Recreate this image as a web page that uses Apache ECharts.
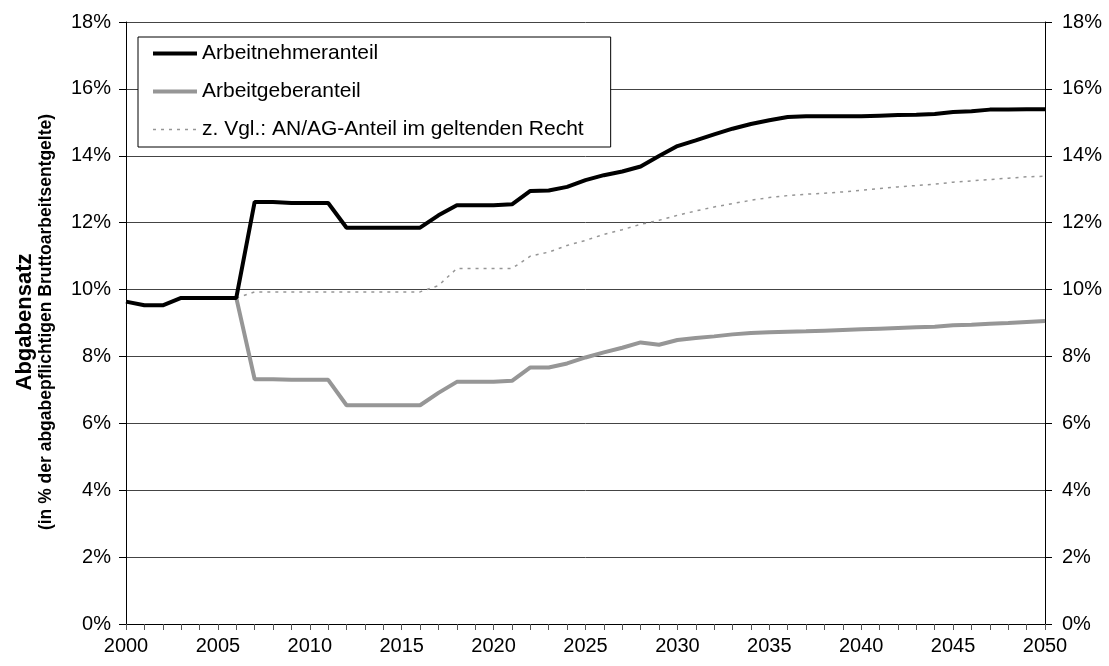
<!DOCTYPE html>
<html>
<head>
<meta charset="utf-8">
<script src="https://cdn.jsdelivr.net/npm/echarts@6/dist/echarts.min.js"></script>
<style>
  html, body { margin: 0; padding: 0; background: #fff; }
  #chart-root { width: 1109px; height: 666px; }
</style>
</head>
<body>
<div id="chart-root"></div>
<script>
// Jahre (Kategorien)
const years = [
  "2000","2001","2002","2003","2004","2005","2006","2007","2008","2009",
  "2010","2011","2012","2013","2014","2015","2016","2017","2018","2019",
  "2020","2021","2022","2023","2024","2025","2026","2027","2028","2029",
  "2030","2031","2032","2033","2034","2035","2036","2037","2038","2039",
  "2040","2041","2042","2043","2044","2045","2046","2047","2048","2049","2050"
];

// Arbeitnehmeranteil (in %)
const anteilAN = [
  9.64, 9.53, 9.53, 9.75, 9.75, 9.75, 9.75, 12.62, 12.62, 12.59,
  12.59, 12.59, 11.85, 11.85, 11.85, 11.85, 11.85, 12.22, 12.52, 12.52,
  12.52, 12.55, 12.95, 12.96, 13.07, 13.27, 13.42, 13.53, 13.68, 13.99,
  14.29, 14.46, 14.64, 14.81, 14.95, 15.06, 15.16, 15.18, 15.18, 15.18,
  15.18, 15.20, 15.22, 15.23, 15.25, 15.31, 15.33, 15.38, 15.38, 15.39, 15.39
];

// Arbeitgeberanteil (in %)
const anteilAG = [
  null, null, null, null, null, null, 9.75, 7.32, 7.32, 7.30,
  7.30, 7.30, 6.54, 6.54, 6.54, 6.54, 6.54, 6.91, 7.24, 7.24,
  7.24, 7.27, 7.67, 7.67, 7.79, 7.97, 8.12, 8.26, 8.42, 8.35,
  8.49, 8.55, 8.60, 8.66, 8.70, 8.72, 8.74, 8.75, 8.77, 8.79,
  8.81, 8.83, 8.85, 8.87, 8.89, 8.93, 8.95, 8.98, 9.00, 9.03, 9.06
];

// z. Vgl.: AN/AG-Anteil im geltenden Recht (in %)
const anteilRecht = [
  null, null, null, null, null, null, 9.75, 9.93, 9.93, 9.93,
  9.93, 9.93, 9.93, 9.93, 9.93, 9.93, 9.93, 10.12, 10.63, 10.63,
  10.63, 10.63, 11.00, 11.12, 11.32, 11.47, 11.65, 11.79, 11.95, 12.07,
  12.22, 12.35, 12.47, 12.57, 12.67, 12.75, 12.81, 12.85, 12.88, 12.92,
  12.97, 13.02, 13.07, 13.11, 13.15, 13.21, 13.25, 13.29, 13.33, 13.37, 13.39
];

const fontFam = "'Liberation Sans', Arial, sans-serif";

let chart = echarts.init(document.getElementById("chart-root"));

let yAxisBase = {
  type: "value",
  min: 0,
  max: 18,
  interval: 2,
  axisLine: { show: true, lineStyle: { color: "#000", width: 1 } },
  axisTick: { show: true, inside: false, length: 7, lineStyle: { color: "#000" } },
  axisLabel: {
    formatter: "{value}%",
    color: "#000",
    fontSize: 20,
    fontFamily: fontFam,
    margin: 15
  }
};

let option = {
  animation: false,
  backgroundColor: "#fff",
  textStyle: { fontFamily: fontFam },
  grid: {
    left: 126,
    right: 64,
    top: 22,
    bottom: 42
  },
  legend: {
    orient: "vertical",
    left: 138,
    top: 37,
    backgroundColor: "#fff",
    borderColor: "#000",
    borderWidth: 1,
    borderRadius: 0,
    padding: [6, 27, 7, 13],
    itemWidth: 44,
    itemHeight: 20,
    itemGap: 17,
    itemStyle: { opacity: 0 },
    lineStyle: { width: "inherit" },
    textStyle: { color: "#000", fontSize: 21, fontFamily: fontFam },
    data: ["Arbeitnehmeranteil", "Arbeitgeberanteil", "z. Vgl.: AN/AG-Anteil im geltenden Recht"]
  },
  xAxis: {
    type: "category",
    data: years,
    boundaryGap: false,
    axisLine: { lineStyle: { color: "#000", width: 1 } },
    axisTick: { show: true, interval: 0, length: 6, lineStyle: { color: "#555" } },
    axisLabel: {
      interval: 4,
      color: "#000",
      fontSize: 20,
      fontFamily: fontFam,
      margin: 12
    },
    splitLine: { show: false }
  },
  yAxis: [
    Object.assign({}, yAxisBase, {
      position: "left",
      splitLine: { show: true, lineStyle: { color: "#444", width: 1 } }
    }),
    Object.assign({}, yAxisBase, {
      position: "right",
      axisLabel: Object.assign({}, yAxisBase.axisLabel, { margin: 17 }),
      splitLine: { show: false }
    })
  ],
  graphic: [
    {
      type: "text",
      x: 25,
      y: 322,
      rotation: Math.PI / 2,
      style: {
        text: "Abgabensatz",
        font: "bold 22px " + fontFam,
        fill: "#000",
        textAlign: "center",
        textVerticalAlign: "middle"
      }
    },
    {
      type: "text",
      x: 46,
      y: 322,
      rotation: Math.PI / 2,
      style: {
        text: "(in % der abgabepflichtigen Bruttoarbeitsentgelte)",
        font: "bold 17.5px " + fontFam,
        fill: "#000",
        textAlign: "center",
        textVerticalAlign: "middle"
      }
    }
  ],
  series: [
    {
      name: "Arbeitnehmeranteil",
      type: "line",
      data: anteilAN,
      symbol: "none",
      z: 4,
      lineStyle: { color: "#000", width: 4 },
      itemStyle: { color: "#000" }
    },
    {
      name: "Arbeitgeberanteil",
      type: "line",
      data: anteilAG,
      symbol: "none",
      z: 3,
      lineStyle: { color: "#969696", width: 4 },
      itemStyle: { color: "#969696" }
    },
    {
      name: "z. Vgl.: AN/AG-Anteil im geltenden Recht",
      type: "line",
      data: anteilRecht,
      symbol: "none",
      z: 2,
      lineStyle: { color: "#969696", width: 1.5, type: [3, 5] },
      itemStyle: { color: "#969696" }
    }
  ]
};

chart.setOption(option);
</script>
</body>
</html>
